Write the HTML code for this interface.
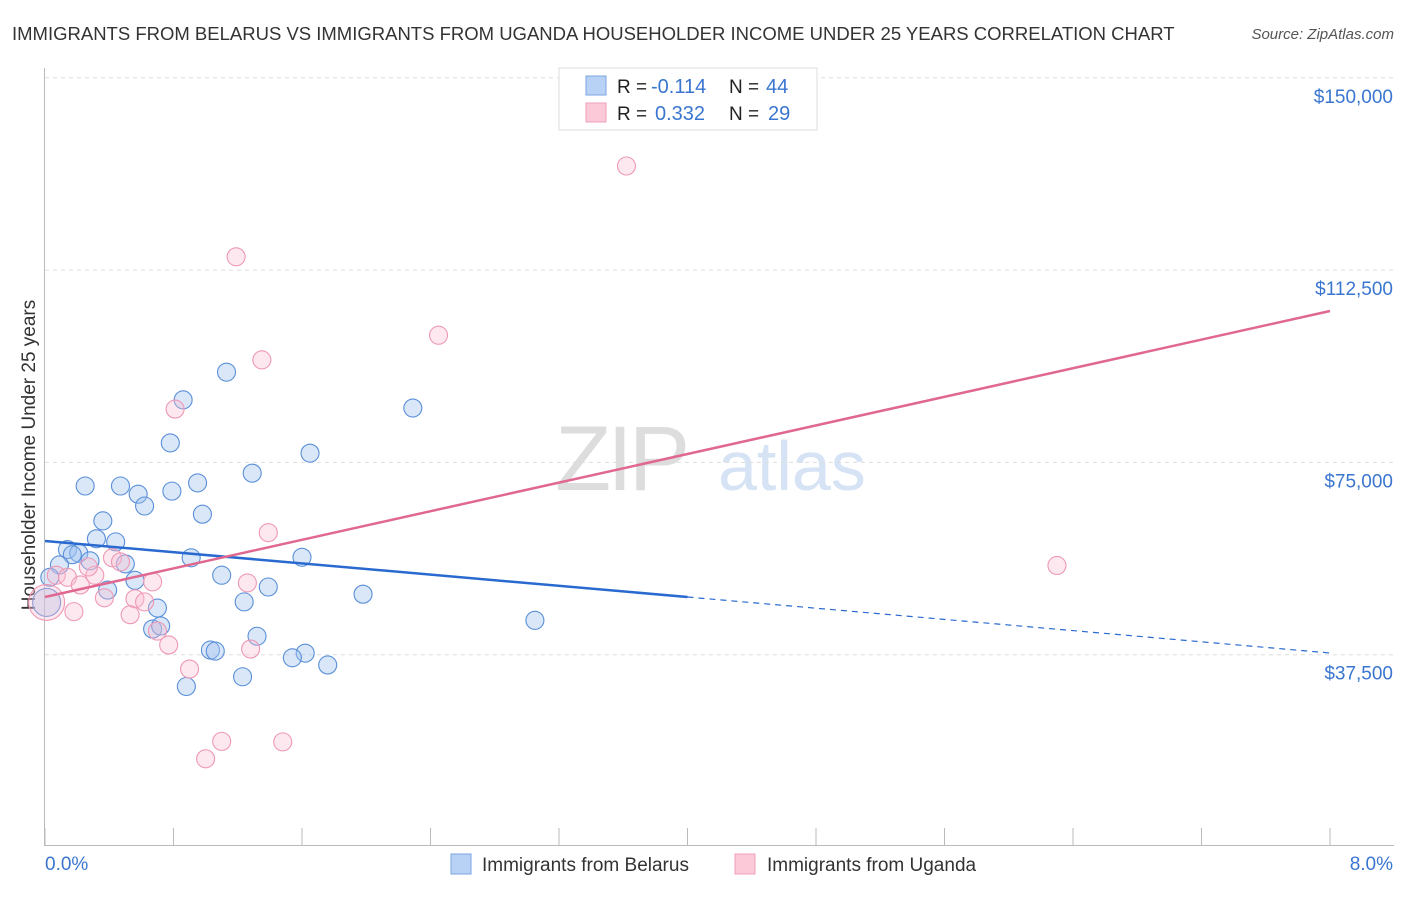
<!DOCTYPE html>
<html><head><meta charset="utf-8"><style>
body{margin:0;background:#fff;font-family:"Liberation Sans",sans-serif;}
svg text{font-family:"Liberation Sans",sans-serif;}
</style></head><body>
<svg id="chart" width="1406" height="892" viewBox="0 0 1406 892">
<text x="12" y="40" font-size="18.5" fill="#333">IMMIGRANTS FROM BELARUS VS IMMIGRANTS FROM UGANDA HOUSEHOLDER INCOME UNDER 25 YEARS CORRELATION CHART</text>
<text x="1394" y="39" font-size="15" fill="#555" font-style="italic" text-anchor="end">Source: ZipAtlas.com</text>
<text x="35" y="455" font-size="19" fill="#333" text-anchor="middle" transform="rotate(-90 35 455)">Householder Income Under 25 years</text>
<g><text x="555" y="490" font-size="92" fill="#ddd" font-family="Liberation Serif" letter-spacing="-4">ZIP</text><text x="718" y="490" font-size="70" fill="#d6e3f5">atlas</text></g>
<g id="grid"></g><g id="pts"></g><g id="lines"></g>
<g>
<rect x="559" y="68" width="258" height="62" fill="#fff" stroke="#ddd"/>
<rect x="586" y="76" width="20" height="19" fill="#b8d2f5" stroke="#7aa6e0"/>
<rect x="586" y="103" width="20" height="19" fill="#fbc9d8" stroke="#f0a0b8"/>
<text x="617" y="93" font-size="19" fill="#222">R =</text>
<text x="651" y="93" font-size="20" fill="#3a76d0">-0.114</text>
<text x="729" y="93" font-size="19" fill="#222">N =</text>
<text x="766" y="93" font-size="20" fill="#3a76d0">44</text>
<text x="617" y="120" font-size="19" fill="#222">R =</text>
<text x="655" y="120" font-size="20" fill="#3a76d0">0.332</text>
<text x="729" y="120" font-size="19" fill="#222">N =</text>
<text x="768" y="120" font-size="20" fill="#3a76d0">29</text>
</g>
<g>
<rect x="451" y="854" width="20" height="20" fill="#b8d2f5" stroke="#7aa6e0"/>
<text x="482" y="871" font-size="19" fill="#333">Immigrants from Belarus</text>
<rect x="735" y="854" width="20" height="20" fill="#fbc9d8" stroke="#f0a0b8"/>
<text x="767" y="871" font-size="19" fill="#333">Immigrants from Uganda</text>
</g>
</svg>
<script>
const yTicks=[37500,75000,112500,150000];
const yTickLabels=["$37,500","$75,000","$112,500","$150,000"];
const xTickLabels=["0.0%","8.0%"];
const belarusX=[1.13,0.86,2.29,0.78,1.65,1.29,0.25,0.47,0.95,0.79,0.58,0.62,0.98,0.36,0.32,0.44,0.14,0.21,0.17,0.28,0.50,0.91,1.60,0.09,0.03,0.56,1.10,1.39,0.39,0.70,1.24,1.98,3.05,0.67,0.72,1.32,1.03,1.06,1.62,1.54,1.76,1.23,0.88,0.01];
const belarusY=[92600,87200,85600,78800,76800,72900,70400,70400,71000,69400,68800,66500,64900,63600,60100,59500,58000,57300,57000,55800,55200,56400,56500,55000,52600,52000,53000,50700,50100,46600,47800,49300,44200,42500,43100,41100,38400,38200,37800,36900,35500,33200,31300,47700];
const belarusR=[9,9,9,9,9,9,9,9,9,9,9,9,9,9,9,9,9,9,9,9,9,9,9,9,9,9,9,9,9,9,9,9,9,9,9,9,9,9,9,9,9,9,9,14];
const ugandaX=[3.62,1.19,2.45,1.35,0.81,1.39,6.30,0.42,0.47,0.07,0.14,0.31,0.27,0.67,1.26,0.22,0.56,0.62,0.37,0.53,0.70,0.77,1.28,0.90,1.10,1.48,1.00,0.18,0.01];
const ugandaY=[132800,115100,99800,95000,85400,61300,54900,56400,55600,53000,52600,53000,54600,51700,51500,51100,48400,47800,48600,45300,42100,39400,38600,34700,20600,20500,17200,45900,47700];
const ugandaR=[9,9,9,9,9,9,9,9,9,9,9,9,9,9,9,9,9,9,9,9,9,9,9,9,9,9,9,9,18];
const belarusTrend=[59670,37830];
const ugandaTrend=[48750,104520];
const NS="http://www.w3.org/2000/svg";
const sx=v=>45+v/8*1285, sy=v=>847-v*192.3/37500;
function mk(t,a,p){const e=document.createElementNS(NS,t);for(const k in a)e.setAttribute(k,a[k]);p.appendChild(e);return e;}
const grid=document.getElementById('grid');
yTicks.forEach((t,i)=>{
 const l=mk('line',{x1:45,x2:1394,y1:sy(t),y2:sy(t),stroke:'#ddd','stroke-dasharray':'4,4'},grid);
 
 
 const tx=mk('text',{x:1393,y:sy(t)+25,'font-size':19,fill:'#3a76d0','text-anchor':'end'},grid);tx.textContent=yTickLabels[i];
 
 
});
mk('line',{x1:44.5,x2:44.5,y1:68,y2:846,stroke:'#bbb'},grid);
mk('line',{x1:44,x2:1394,y1:845.5,y2:845.5,stroke:'#bbb'},grid);
for(let i=0;i<=10;i++){const x=sx(i*0.8);mk('line',{x1:x,x2:x,y1:828,y2:846,stroke:'#bbb'},grid);}
xTickLabels.forEach((s,i)=>{const tx=mk('text',{x:i?1393:45,y:870,'font-size':19,fill:'#3a76d0','text-anchor':i?'end':'start'},grid);tx.textContent=s;
 
 });
const pts=document.getElementById('pts');
belarusX.forEach((x,i)=>{const c=mk('circle',{cx:sx(x),cy:sy(belarusY[i]),r:belarusR[i],fill:'rgba(160,196,240,0.4)',stroke:'#5a8fd8','stroke-width':1.1},pts);
 
 });
ugandaX.forEach((x,i)=>{const c=mk('circle',{cx:sx(x),cy:sy(ugandaY[i]),r:ugandaR[i],fill:'rgba(250,190,210,0.35)',stroke:'#ee98b4','stroke-width':1.1},pts);
 
 });
const lines=document.getElementById('lines');
const bAt=x=>belarusTrend[0]+(belarusTrend[1]-belarusTrend[0])*x/8;
let l1=mk('line',{x1:sx(0),y1:sy(bAt(0)),x2:sx(4),y2:sy(bAt(4)),stroke:'#2a6ad0','stroke-width':2.5},lines);


let l2=mk('line',{x1:sx(4),y1:sy(bAt(4)),x2:sx(8),y2:sy(bAt(8)),stroke:'#2a6ad0','stroke-width':1.2,'stroke-dasharray':'6,5'},lines);


let l3=mk('line',{x1:sx(0),y1:sy(ugandaTrend[0]),x2:sx(8),y2:sy(ugandaTrend[1]),stroke:'#e06890','stroke-width':2.5},lines);


</script>
</body></html>
